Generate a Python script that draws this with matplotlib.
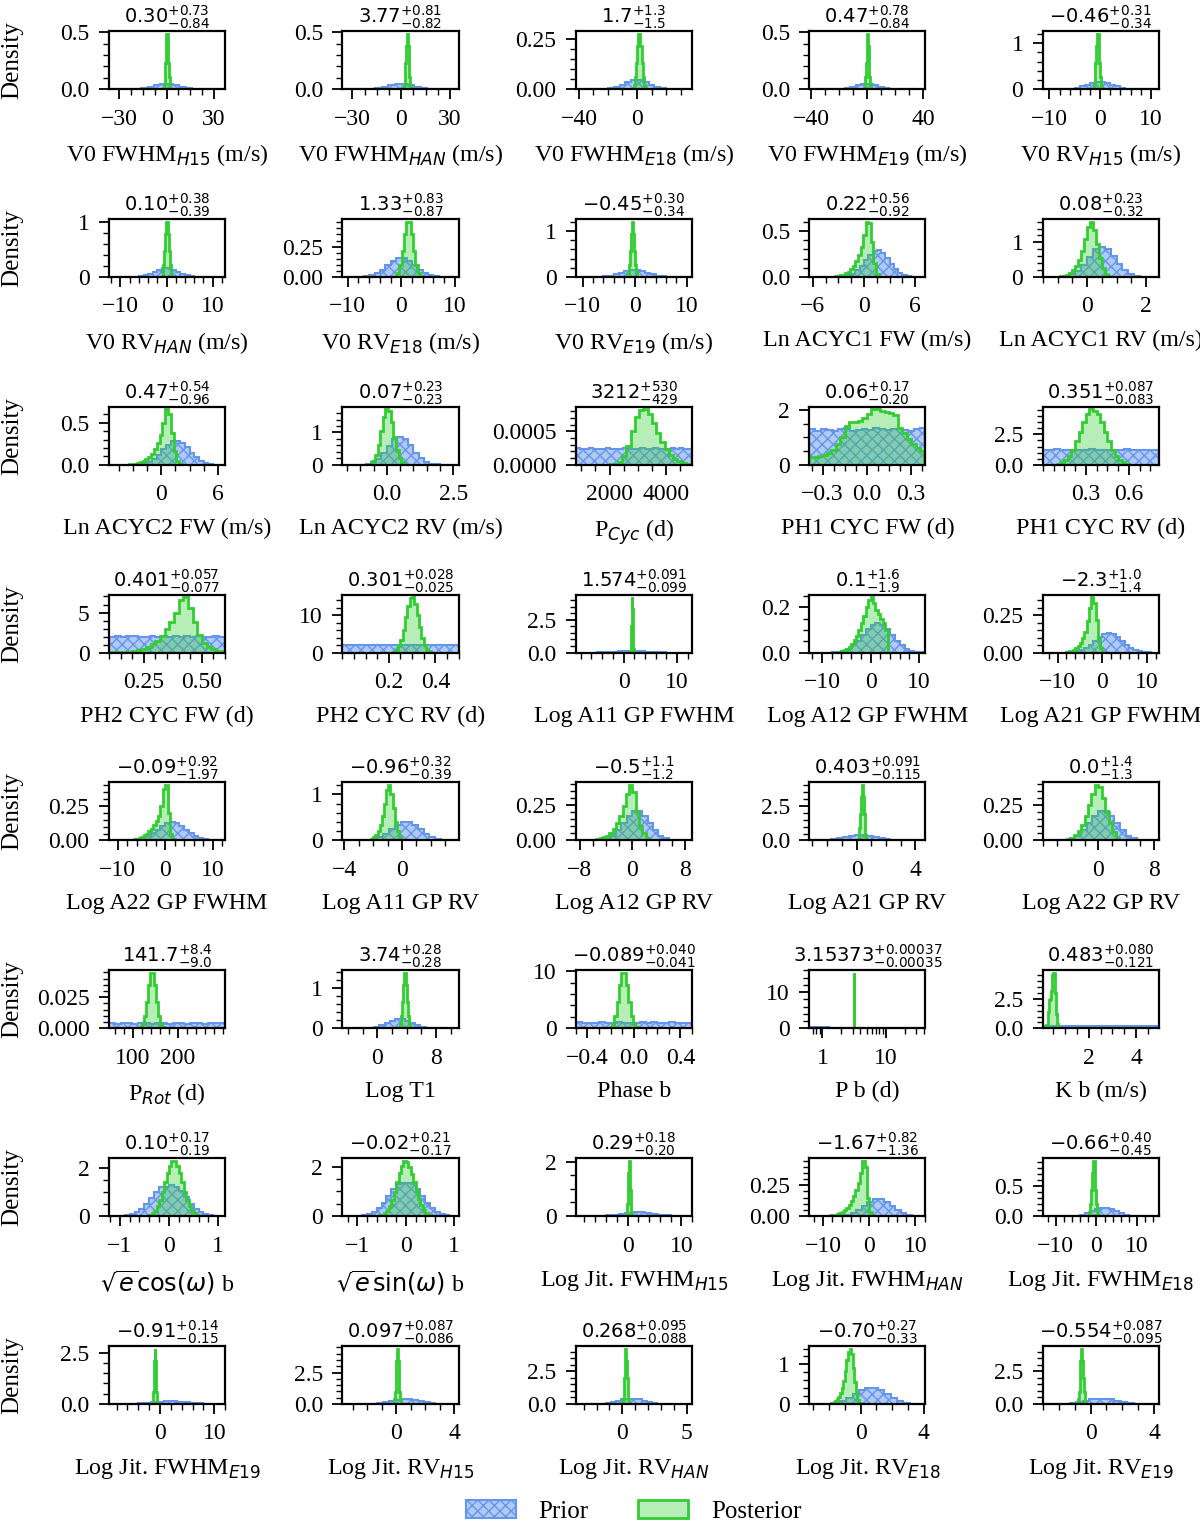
import matplotlib
matplotlib.use("Agg")
import matplotlib.pyplot as plt
import numpy as np
from matplotlib.patches import Patch
from matplotlib.ticker import AutoMinorLocator, NullFormatter, ScalarFormatter

plt.rcParams["font.family"] = ["Liberation Serif", "DejaVu Serif"]
plt.rcParams["mathtext.fontset"] = "dejavusans"
plt.rcParams["hatch.linewidth"] = 1.0

PRIOR_COLOR = "cornflowerblue"
POST_COLOR = "limegreen"

# ---------------------------------------------------------------- labels
LABELS = [
    r"V0 FWHM$_{H15}$ (m/s)", r"V0 FWHM$_{HAN}$ (m/s)", r"V0 FWHM$_{E18}$ (m/s)",
    r"V0 FWHM$_{E19}$ (m/s)", r"V0 RV$_{H15}$ (m/s)",
    r"V0 RV$_{HAN}$ (m/s)", r"V0 RV$_{E18}$ (m/s)", r"V0 RV$_{E19}$ (m/s)",
    "Ln ACYC1 FW (m/s)", "Ln ACYC1 RV (m/s)",
    "Ln ACYC2 FW (m/s)", "Ln ACYC2 RV (m/s)", r"P$_{Cyc}$ (d)", "PH1 CYC FW (d)", "PH1 CYC RV (d)",
    "PH2 CYC FW (d)", "PH2 CYC RV (d)", "Log A11 GP FWHM", "Log A12 GP FWHM", "Log A21 GP FWHM",
    "Log A22 GP FWHM", "Log A11 GP RV", "Log A12 GP RV", "Log A21 GP RV", "Log A22 GP RV",
    r"P$_{Rot}$ (d)", "Log T1", "Phase b", "P b (d)", "K b (m/s)",
    r"$\sqrt{e}\cos(\omega)$ b", r"$\sqrt{e}\sin(\omega)$ b", r"Log Jit. FWHM$_{H15}$",
    r"Log Jit. FWHM$_{HAN}$", r"Log Jit. FWHM$_{E18}$",
    r"Log Jit. FWHM$_{E19}$", r"Log Jit. RV$_{H15}$", r"Log Jit. RV$_{HAN}$",
    r"Log Jit. RV$_{E18}$", r"Log Jit. RV$_{E19}$",
]

MEDIANS = ["0.30", "3.77", "1.7", "0.47", "-0.46", "0.10", "1.33", "-0.45", "0.22", "0.08",
           "0.47", "0.07", "3212", "0.06", "0.351", "0.401", "0.301", "1.574", "0.1", "-2.3",
           "-0.09", "-0.96", "-0.5", "0.403", "0.0", "141.7", "3.74", "-0.089", "3.15373", "0.483",
           "0.10", "-0.02", "0.29", "-1.67", "-0.66", "-0.91", "0.097", "0.268", "-0.70", "-0.554"]
ERR_UP = ["0.73", "0.81", "1.3", "0.78", "0.31", "0.38", "0.83", "0.30", "0.56", "0.23",
          "0.54", "0.23", "530", "0.17", "0.087", "0.057", "0.028", "0.091", "1.6", "1.0",
          "0.92", "0.32", "1.1", "0.091", "1.4", "8.4", "0.28", "0.040", "0.00037", "0.080",
          "0.17", "0.21", "0.18", "0.82", "0.40", "0.14", "0.087", "0.095", "0.27", "0.087"]
ERR_LO = ["0.84", "0.82", "1.5", "0.84", "0.34", "0.39", "0.87", "0.34", "0.92", "0.32",
          "0.96", "0.23", "429", "0.20", "0.083", "0.077", "0.025", "0.099", "1.9", "1.4",
          "1.97", "0.39", "1.2", "0.115", "1.3", "9.0", "0.28", "0.041", "0.00035", "0.121",
          "0.19", "0.17", "0.20", "1.36", "0.45", "0.15", "0.086", "0.088", "0.33", "0.095"]

XLIMS = [(-36.6, 37.1), (-36.1, 35.2), (-42.1, 37.9), (-41.4, 41.9), (-11.3, 11.6),
         (-12.5, 12.7), (-11, 10.7), (-11.3, 11), (-6.4, 7.2), (-1.5, 2.44),
         (-5.6, 6.8), (-1.67, 2.7), (810, 4920), (-0.39, 0.397), (0, 0.81),
         (0.1, 0.6), (0, 0.5), (-8.9, 12.8), (-12.6, 11.3), (-13.3, 12.7),
         (-11.8, 12.6), (-4.14, 3.93), (-8.6, 9.06), (-3.2, 4.68), (-8, 8.7),
         (47, 304), (-4.75, 11.1), (-0.5, 0.5), (0.62, 43), (0.05, 4.97),
         (-1.22, 1.14), (-1.31, 1.09), (-9.6, 12), (-13, 12.2), (-13.2, 15.4),
         (-9.4, 12), (-3.7, 4.3), (-3.6, 5.4), (-3.24, 4.1), (-3, 4.3)]

XTICKS = [[-30, 0, 30], [-30, 0, 30], [-40, 0], [-40, 0, 40], [-10, 0, 10],
          [-10, 0, 10], [-10, 0, 10], [-10, 0, 10], [-6, 0, 6], [0, 2],
          [0, 6], [0.0, 2.5], [2000, 4000], [-0.3, 0.0, 0.3], [0.3, 0.6],
          [0.25, 0.50], [0.2, 0.4], [0, 10], [-10, 0, 10], [-10, 0, 10],
          [-10, 0, 10], [-4, 0], [-8, 0, 8], [0, 4], [0, 8],
          [100, 200], [0, 8], [-0.4, 0.0, 0.4], [1, 10], [2, 4],
          [-1, 0, 1], [-1, 0, 1], [0, 10], [-10, 0, 10], [-10, 0, 10],
          [0, 10], [0, 4], [0, 5], [0, 4], [0, 4]]

YTICKS = [[0, 0.5], [0, 0.5], [0, 0.25], [0, 0.5], [0, 1],
          [0, 1], [0, 0.25], [0, 1], [0, 0.5], [0, 1],
          [0, 0.5], [0, 1], [0, 0.0005], [0, 2], [0, 2.5],
          [0, 5], [0, 10], [0, 2.5], [0, 0.2], [0, 0.25],
          [0, 0.25], [0, 1], [0, 0.25], [0, 2.5], [0, 0.25],
          [0, 0.025], [0, 1], [0, 10], [0, 10], [0, 2.5],
          [0, 2], [0, 2], [0, 2], [0, 0.25], [0, 0.5],
          [0, 2.5], [0, 2.5], [0, 2.5], [0, 1], [0, 2.5]]

LOG_X = {28}

# ---------------------------------------------------------------- priors (lo, hi, density per bin)
PRIOR_V0_FWHM = (-36, 36, [0.0, 0.0001, 0.0004, 0.0016, 0.0049, 0.0118, 0.023, 0.036, 0.0446,
                           0.0446, 0.036, 0.023, 0.0118, 0.0049, 0.0016, 0.0004, 0.0001, 0.0])
PRIOR_V0_RV = (-10, 10, [0.0001, 0.0005, 0.0018, 0.0054, 0.0142, 0.0317, 0.06, 0.097, 0.134, 0.157,
                         0.157, 0.134, 0.097, 0.06, 0.0317, 0.0142, 0.0054, 0.0018, 0.0005, 0.0001])
PRIOR_LN_ACYC_FW = (-3, 6.5, [0.002, 0.007, 0.017, 0.036, 0.071, 0.121, 0.183, 0.241, 0.281, 0.288,
                              0.261, 0.207, 0.144, 0.089, 0.048, 0.023, 0.01, 0.0035, 0.001])
PRIOR_LN_ACYC_RV = (-1.0, 2.4, [0.007, 0.025, 0.075, 0.18, 0.36, 0.59, 0.8, 0.87, 0.8, 0.6,
                                0.38, 0.2, 0.09, 0.035, 0.012, 0.004, 0.001])
PRIOR_P_CYC = (810, 4920, [2.45e-4, 2.38e-4, 2.42e-4, 2.5e-4, 2.36e-4, 2.44e-4, 2.4e-4, 2.47e-4,
                           2.35e-4, 2.43e-4, 2.41e-4, 2.49e-4, 2.37e-4, 2.44e-4, 2.4e-4, 2.46e-4,
                           2.36e-4, 2.42e-4, 2.48e-4, 2.39e-4, 2.43e-4, 2.37e-4, 2.45e-4, 2.41e-4,
                           2.5e-4, 2.38e-4, 2.44e-4])
PRIOR_PH1_FW = (-0.39, 0.397, [1.30, 1.24, 1.31, 1.26, 1.22, 1.29, 1.33, 1.25, 1.28, 1.31,
                               1.27, 1.34, 1.30, 1.26, 1.29, 1.32, 1.27, 1.24, 1.30, 1.35])
PRIOR_PH1_RV = (0, 0.81, [1.25, 1.21, 1.27, 1.23, 1.20, 1.26, 1.24, 1.22, 1.28, 1.23,
                          1.25, 1.21, 1.26, 1.24, 1.27, 1.22, 1.25, 1.23, 1.26, 1.24])
PRIOR_PH2_FW = (0.1, 0.6, [1.98, 2.05, 1.96, 2.02, 2.06, 1.95, 2.01, 2.04, 1.97, 2.03,
                           1.99, 2.06, 1.98, 2.02, 1.95, 2.04, 2.00, 1.97, 2.05, 2.01])
PRIOR_PH2_RV = (0, 0.5, [2.02, 1.97, 2.04, 1.99, 2.01, 1.96, 2.05, 2.00, 1.98, 2.03,
                         1.97, 2.02, 2.00, 1.96, 2.04, 1.99, 2.01, 2.03, 1.98, 2.00])
PRIOR_LOGA_FWHM = (-10, 13, [0.0001, 0.0005, 0.0014, 0.0036, 0.0086, 0.0176, 0.0324, 0.0534,
                             0.0789, 0.104, 0.123, 0.13, 0.123, 0.104, 0.0789, 0.0534, 0.0324,
                             0.0176, 0.0086, 0.0036, 0.0014, 0.0005, 0.0001])
PRIOR_LOGA_RV_NARROW = (-3.3, 3.9, [0.0007, 0.0029, 0.0099, 0.0286, 0.0701, 0.142, 0.242, 0.344, 0.411,
                                    0.411, 0.344, 0.242, 0.142, 0.0701, 0.0286, 0.0099, 0.0029, 0.0007])
PRIOR_LOGA_RV_WIDE = (-6.5, 7.9, [0.0003, 0.0014, 0.0049, 0.0143, 0.035, 0.0712, 0.121, 0.172, 0.205,
                                  0.205, 0.172, 0.121, 0.0712, 0.035, 0.0143, 0.0049, 0.0014, 0.0003])
PRIOR_P_ROT = (47, 304, [3.9e-3, 3.8e-3, 4.0e-3, 3.9e-3, 3.7e-3, 4.0e-3, 3.9e-3, 3.8e-3, 4.1e-3, 3.9e-3,
                         3.8e-3, 4.0e-3, 3.9e-3, 3.7e-3, 3.9e-3, 4.0e-3, 3.8e-3, 3.9e-3, 4.1e-3, 3.9e-3])
PRIOR_LOG_T1 = (-3.2, 9.4, [0.0004, 0.0016, 0.0054, 0.0158, 0.0387, 0.0784, 0.132, 0.189, 0.225,
                            0.225, 0.189, 0.132, 0.0784, 0.0387, 0.0158, 0.0054, 0.0016, 0.0004])
PRIOR_PHASE_B = (-0.5, 0.5, [1.02, 0.97, 1.01, 0.99, 1.04, 0.98, 1.00, 1.03, 0.96, 1.01,
                             0.99, 1.02, 0.98, 1.03, 1.00, 0.97, 1.02, 0.99, 1.01, 1.00])
PRIOR_P_B = (0.62, 43, [0.319, 0.225, 0.157, 0.11, 0.078, 0.054, 0.038, 0.027, 0.019, 0.013, 0.0093, 0.0065])
PRIOR_K_B = (0.05, 4.97, [0.20, 0.21, 0.20, 0.19, 0.21, 0.20, 0.20, 0.21, 0.19, 0.20,
                          0.21, 0.20, 0.19, 0.20, 0.21, 0.20, 0.21, 0.20, 0.19, 0.21])
PRIOR_ECC_COS = (-1.0, 1.0, [0.01, 0.03, 0.08, 0.16, 0.3, 0.5, 0.75, 1.0, 1.2, 1.22,
                             1.28, 1.22, 1.05, 0.78, 0.5, 0.3, 0.16, 0.08, 0.03, 0.01])
PRIOR_ECC_SIN = (-1.0, 1.0, [0.01, 0.03, 0.08, 0.17, 0.32, 0.55, 0.82, 1.1, 1.3, 1.35,
                             1.35, 1.3, 1.1, 0.82, 0.55, 0.32, 0.17, 0.08, 0.03, 0.01])
PRIOR_LOGJIT_FWHM = (-8.8, 12.8, [0.0002, 0.001, 0.0033, 0.0095, 0.0234, 0.0475, 0.0806, 0.115, 0.137,
                                  0.137, 0.115, 0.0806, 0.0475, 0.0234, 0.0095, 0.0033, 0.001, 0.0002])
PRIOR_LOGJIT_RV = (-2.9, 4.3, [0.0007, 0.0029, 0.0099, 0.0286, 0.0701, 0.142, 0.242, 0.344, 0.411,
                               0.411, 0.344, 0.242, 0.142, 0.0701, 0.0286, 0.0099, 0.0029, 0.0007])

PRIORS = [PRIOR_V0_FWHM] * 4 + [PRIOR_V0_RV] * 4 + [
    PRIOR_LN_ACYC_FW, PRIOR_LN_ACYC_RV, PRIOR_LN_ACYC_FW, PRIOR_LN_ACYC_RV,
    PRIOR_P_CYC, PRIOR_PH1_FW, PRIOR_PH1_RV, PRIOR_PH2_FW, PRIOR_PH2_RV,
    PRIOR_LOGA_FWHM, PRIOR_LOGA_FWHM, PRIOR_LOGA_FWHM, PRIOR_LOGA_FWHM,
    PRIOR_LOGA_RV_NARROW, PRIOR_LOGA_RV_WIDE, PRIOR_LOGA_RV_NARROW, PRIOR_LOGA_RV_WIDE,
    PRIOR_P_ROT, PRIOR_LOG_T1, PRIOR_PHASE_B, PRIOR_P_B, PRIOR_K_B,
    PRIOR_ECC_COS, PRIOR_ECC_SIN] + [PRIOR_LOGJIT_FWHM] * 4 + [PRIOR_LOGJIT_RV] * 4

# ---------------------------------------------------------------- posteriors (lo, hi, density per bin)
post_v0_fwhm_h15 = (-2.1, 2.7, [0.012, 0.04, 0.108, 0.229, 0.378, 0.485, 0.485, 0.378, 0.229, 0.108, 0.04, 0.012])
post_v0_fwhm_han = (1.37, 6.17, [0.012, 0.04, 0.108, 0.229, 0.378, 0.485, 0.485, 0.378, 0.229, 0.108, 0.04, 0.012])
post_v0_fwhm_e18 = (-2.5, 5.9, [0.0066, 0.0225, 0.0616, 0.1305, 0.215, 0.276, 0.276, 0.215, 0.1305, 0.0616, 0.0225, 0.0066])
post_v0_fwhm_e19 = (-1.93, 2.87, [0.012, 0.04, 0.108, 0.229, 0.378, 0.485, 0.485, 0.378, 0.229, 0.108, 0.04, 0.012])
post_v0_rv_h15 = (-1.42, 0.5, [0.029, 0.098, 0.268, 0.568, 0.936, 1.2, 1.2, 0.936, 0.568, 0.268, 0.098, 0.029])
post_v0_rv_han = (-1.06, 1.26, [0.024, 0.082, 0.225, 0.476, 0.785, 1.008, 1.008, 0.785, 0.476, 0.225, 0.082, 0.024])
post_v0_rv_e18 = (-1.22, 3.88, [0.011, 0.037, 0.102, 0.215, 0.355, 0.455, 0.455, 0.355, 0.215, 0.102, 0.037, 0.011])
post_v0_rv_e19 = (-1.41, 0.51, [0.029, 0.098, 0.268, 0.568, 0.936, 1.2, 1.2, 0.936, 0.568, 0.268, 0.098, 0.029])
post_ln_acyc1_fw = (-4.0, 1.7, [0.003, 0.005, 0.008, 0.012, 0.018, 0.027, 0.04, 0.058, 0.085, 0.12,
                                0.17, 0.24, 0.33, 0.45, 0.6, 0.58, 0.38, 0.15, 0.03])
post_ln_acyc1_rv = (-1.0, 0.8, [0.01, 0.02, 0.04, 0.07, 0.12, 0.2, 0.32, 0.5, 0.75, 1.1,
                                1.45, 1.6, 1.35, 0.95, 0.55, 0.25, 0.09, 0.02])
post_ln_acyc2_fw = (-3.8, 2.2, [0.003, 0.005, 0.008, 0.013, 0.02, 0.03, 0.045, 0.065, 0.095, 0.135,
                                0.19, 0.26, 0.36, 0.5, 0.66, 0.6, 0.38, 0.16, 0.05, 0.01])
post_ln_acyc2_rv = (-0.65, 0.75, [0.04, 0.123, 0.3, 0.62, 1.05, 1.47, 1.71, 1.65, 1.31, 0.87, 0.47, 0.22, 0.08, 0.024])
post_p_cyc = (2000, 4850, [0.1e-4, 0.2e-4, 0.5e-4, 1.3e-4, 2.8e-4, 5.0e-4, 7.2e-4, 8.2e-4, 8.3e-4, 7.6e-4,
                           6.3e-4, 4.8e-4, 3.4e-4, 2.3e-4, 1.5e-4, 0.9e-4, 0.55e-4, 0.3e-4, 0.15e-4])
post_ph1_fw = (-0.39, 0.39, [0.28, 0.3, 0.33, 0.36, 0.42, 0.55, 0.75, 1.0, 1.4, 1.55, 1.57, 1.6, 1.7,
                             1.85, 2.02, 2.02, 1.98, 1.92, 1.9, 1.8, 1.35, 1.15, 0.95, 0.75, 0.6, 0.5])
post_ph1_rv = (0.1, 0.6, [0.09, 0.2, 0.4, 0.74, 1.24, 1.92, 2.7, 3.5, 4.17, 4.55,
                          4.4, 4.2, 3.5, 2.7, 1.92, 1.24, 0.74, 0.4, 0.2, 0.09])
post_ph2_fw = (0.1, 0.6, [0.05, 0.06, 0.08, 0.1, 0.14, 0.2, 0.3, 0.45, 0.7, 1.05, 1.5, 2.1, 2.9,
                          3.8, 5.0, 6.5, 6.9, 5.6, 3.8, 2.2, 1.2, 0.65, 0.4, 0.25, 0.15])
post_ph2_rv = (0.22, 0.38, [0.29, 0.77, 1.76, 3.5, 6.15, 9.45, 12.6, 14.6, 14.8, 13.1, 10.1, 6.8, 4.0, 2.0, 0.9, 0.35])
post_loga11_fwhm = (1.29, 1.87, [0.15, 0.7, 2.0, 3.6, 4.2, 3.3, 1.7, 0.25])
post_loga12_fwhm = (-7, 3.5, [0.003, 0.005, 0.008, 0.012, 0.018, 0.027, 0.04, 0.055, 0.075, 0.1, 0.13,
                              0.16, 0.2, 0.235, 0.245, 0.22, 0.19, 0.17, 0.15, 0.13, 0.1])
post_loga21_fwhm = (-8, 0.5, [0.005, 0.008, 0.013, 0.02, 0.03, 0.045, 0.065, 0.095, 0.14, 0.21,
                              0.3, 0.37, 0.33, 0.22, 0.1, 0.03, 0.006])
post_loga22_fwhm = (-7.5, 2.0, [0.003, 0.005, 0.008, 0.012, 0.018, 0.026, 0.037, 0.05, 0.065, 0.085,
                                0.11, 0.14, 0.18, 0.25, 0.37, 0.4, 0.2, 0.05, 0.01])
post_loga11_rv = (-2.3, 0.1, [0.02, 0.04, 0.07, 0.12, 0.2, 0.33, 0.52, 0.78, 1.1, 1.2, 1.0, 0.7, 0.4, 0.2, 0.08, 0.02])
post_loga12_rv = (-6, 2.5, [0.004, 0.008, 0.014, 0.022, 0.035, 0.055, 0.08, 0.12, 0.17, 0.24, 0.33,
                            0.39, 0.34, 0.2, 0.1, 0.05, 0.02])
post_loga21_rv = (0.1, 0.7, [0.094, 0.324, 0.886, 1.88, 3.1, 3.97, 3.97, 3.1, 1.88, 0.886, 0.324, 0.094])
post_loga22_rv = (-5, 3, [0.005, 0.01, 0.02, 0.04, 0.07, 0.11, 0.17, 0.25, 0.33, 0.39, 0.38, 0.3,
                          0.2, 0.12, 0.06, 0.02])
post_p_rot = (115.6, 167.8, [0.0011, 0.0036, 0.0099, 0.0211, 0.0347, 0.0446, 0.0446, 0.0347, 0.0211, 0.0099, 0.0036, 0.0011])
post_log_t1 = (2.9, 4.58, [0.033, 0.112, 0.307, 0.65, 1.07, 1.376, 1.376, 1.07, 0.65, 0.307, 0.112, 0.033])
post_phase_b = (-0.209, 0.031, [0.23, 0.79, 2.16, 4.58, 7.55, 9.69, 9.69, 7.55, 4.58, 2.16, 0.79, 0.23])
post_p_b = (3.12, 3.185, [15.3])
post_k_b = (0.2, 0.75, [0.3, 1.4, 2.4, 2.5, 3.2, 4.5, 4.7, 3.0, 1.2, 0.4, 0.1])
post_ecc_cos = (-0.45, 0.65, [0.025, 0.058, 0.12, 0.23, 0.41, 0.67, 1.0, 1.4, 1.78, 2.1, 2.28,
                              2.3, 2.1, 1.78, 1.4, 1.0, 0.67, 0.41, 0.23, 0.12, 0.058, 0.025])
post_ecc_sin = (-0.55, 0.55, [0.025, 0.056, 0.117, 0.225, 0.4, 0.65, 0.98, 1.37, 1.75, 2.05, 2.25,
                              2.2, 2.0, 1.72, 1.38, 1.02, 0.7, 0.45, 0.26, 0.14, 0.065, 0.028])
post_jit_fwhm_h15 = (-0.28, 0.86, [0.048, 0.166, 0.454, 0.962, 1.59, 2.03, 2.03, 1.59, 0.962, 0.454, 0.166, 0.048])
post_jit_fwhm_han = (-9, 0.5, [0.003, 0.005, 0.008, 0.012, 0.018, 0.026, 0.036, 0.05, 0.068, 0.09,
                               0.12, 0.16, 0.21, 0.27, 0.35, 0.45, 0.4, 0.15, 0.03])
post_jit_fwhm_e18 = (-1.92, 0.6, [0.022, 0.075, 0.205, 0.435, 0.717, 0.92, 0.92, 0.717, 0.435, 0.205, 0.075, 0.022])
post_jit_fwhm_e19 = (-1.345, -0.475, [0.064, 0.221, 0.605, 1.28, 2.11, 2.71, 2.71, 2.11, 1.28, 0.605, 0.221, 0.064])
post_jit_rv_h15 = (-0.164, 0.358, [0.105, 0.36, 0.983, 2.08, 3.44, 4.41, 4.41, 3.44, 2.08, 0.983, 0.36, 0.105])
post_jit_rv_han = (0.0, 0.538, [0.101, 0.348, 0.95, 2.02, 3.32, 4.26, 4.26, 3.32, 2.02, 0.95, 0.348, 0.101])
post_jit_rv_e18 = (-2.0, 0.0, [0.01, 0.02, 0.03, 0.05, 0.08, 0.12, 0.18, 0.27, 0.4, 0.58, 0.82, 1.1,
                               1.32, 1.4, 1.25, 0.92, 0.55, 0.27, 0.1, 0.03])
post_jit_rv_e19 = (-0.824, -0.284, [0.101, 0.348, 0.95, 2.02, 3.32, 4.26, 4.26, 3.32, 2.02, 0.95, 0.348, 0.101])

POSTERIORS = [
    post_v0_fwhm_h15, post_v0_fwhm_han, post_v0_fwhm_e18, post_v0_fwhm_e19, post_v0_rv_h15,
    post_v0_rv_han, post_v0_rv_e18, post_v0_rv_e19, post_ln_acyc1_fw, post_ln_acyc1_rv,
    post_ln_acyc2_fw, post_ln_acyc2_rv, post_p_cyc, post_ph1_fw, post_ph1_rv,
    post_ph2_fw, post_ph2_rv, post_loga11_fwhm, post_loga12_fwhm, post_loga21_fwhm,
    post_loga22_fwhm, post_loga11_rv, post_loga12_rv, post_loga21_rv, post_loga22_rv,
    post_p_rot, post_log_t1, post_phase_b, post_p_b, post_k_b,
    post_ecc_cos, post_ecc_sin, post_jit_fwhm_h15, post_jit_fwhm_han, post_jit_fwhm_e18,
    post_jit_fwhm_e19, post_jit_rv_h15, post_jit_rv_han, post_jit_rv_e18, post_jit_rv_e19,
]


def draw_hist(ax, hist, log_bins, **style):
    lo, hi, heights = hist
    if log_bins:
        edges = np.geomspace(lo, hi, len(heights) + 1)
    else:
        edges = np.linspace(lo, hi, len(heights) + 1)
    ax.stairs(heights, edges, fill=True, **style)


fig, axes = plt.subplots(8, 5, figsize=(12, 15.3))
plt.subplots_adjust(left=0.0908, right=0.9658, top=0.9797, bottom=0.0824, wspace=1.01, hspace=2.23)

prior_style = dict(facecolor=(0.392, 0.584, 0.929, 0.5), edgecolor=PRIOR_COLOR, hatch="xxx", linewidth=1.5)
post_style = dict(facecolor=(0.196, 0.804, 0.196, 0.35), edgecolor=POST_COLOR, linewidth=2)

for i, ax in enumerate(axes.flat):
    log_x = i in LOG_X
    if log_x:
        ax.set_xscale("log")
    draw_hist(ax, PRIORS[i], log_x, **prior_style)
    draw_hist(ax, POSTERIORS[i], log_x, **post_style)

    ax.set_xlim(*XLIMS[i])
    ax.set_ylim(bottom=0)
    ax.set_xticks(XTICKS[i])
    ax.set_yticks(YTICKS[i])
    if log_x:
        ax.xaxis.set_major_formatter(ScalarFormatter())
        ax.xaxis.set_minor_formatter(NullFormatter())
    else:
        ax.xaxis.set_minor_locator(AutoMinorLocator())
    ax.yaxis.set_minor_locator(AutoMinorLocator())

    ax.tick_params(which="major", direction="out", length=7, width=1.3, labelsize=17, pad=7)
    ax.tick_params(which="minor", direction="out", length=4, width=1.0)
    for sp in ax.spines.values():
        sp.set_linewidth(1.6)

    ax.set_title(f"${MEDIANS[i]}^{{+{ERR_UP[i]}}}_{{-{ERR_LO[i]}}}$", fontsize=14, pad=5)
    ax.set_xlabel(LABELS[i], fontsize=17.3, labelpad=9)
    if i % 5 == 0:
        ax.set_ylabel("Density", fontsize=18)
        ax.yaxis.set_label_coords(-0.74, 0.5)

handles = [
    Patch(label="Prior", **prior_style),
    Patch(label="Posterior", **post_style),
]
fig.legend(handles=handles, loc="lower center", bbox_to_anchor=(0.528, -0.010), ncol=2,
           frameon=False, fontsize=18, handlelength=2.0, handletextpad=0.9, columnspacing=2.0)

fig.savefig("out.png", dpi=100)
